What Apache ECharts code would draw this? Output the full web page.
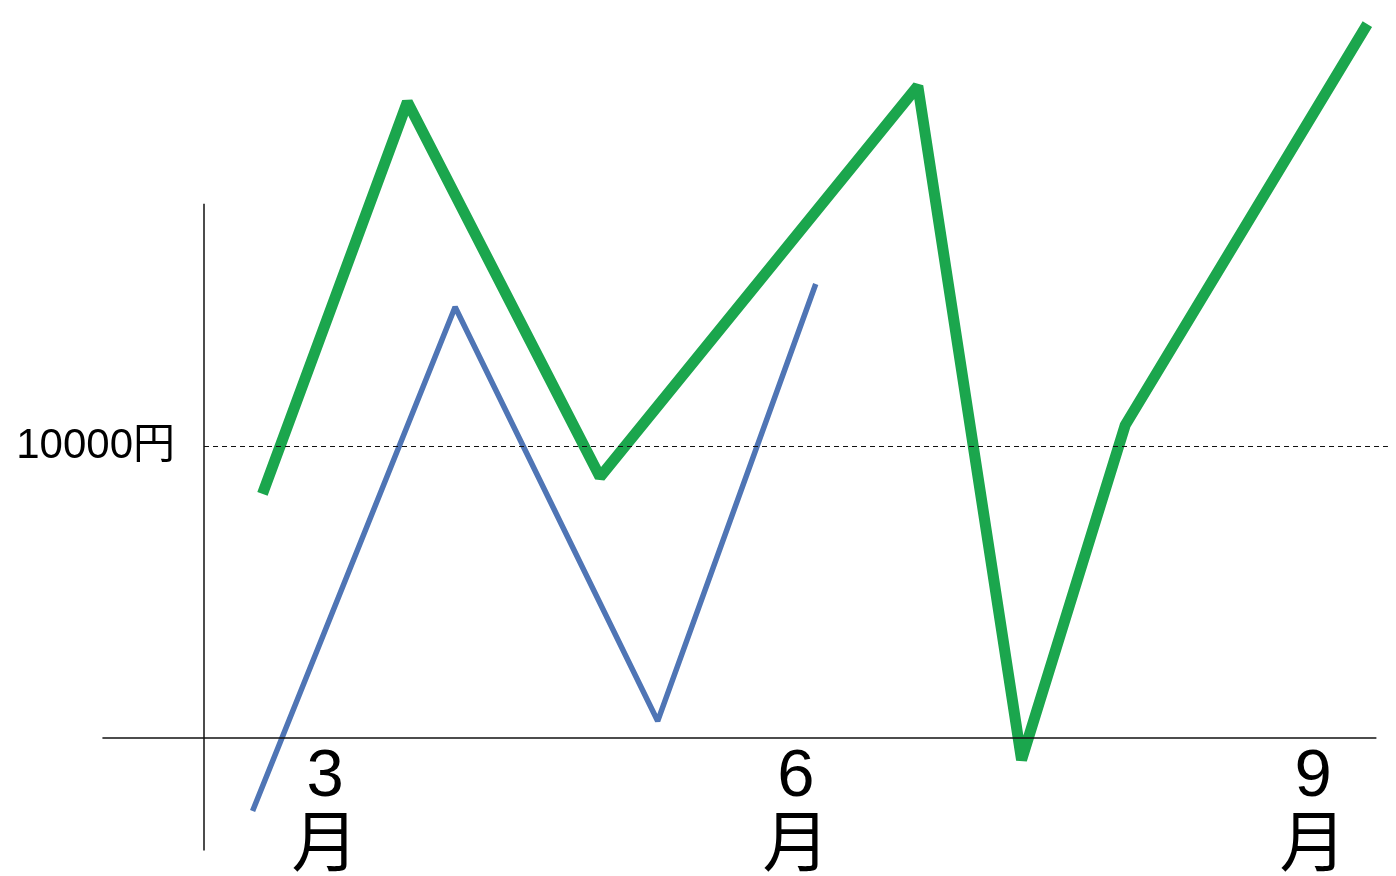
<!DOCTYPE html>
<html>
<head>
<meta charset="utf-8">
<script src="https://cdn.jsdelivr.net/npm/echarts@6/dist/echarts.min.js"></script>
<style>
  html, body { margin: 0; padding: 0; background: #fff; }
  #chart { width: 1396px; height: 876px; }
</style>
</head>
<body>
<div id="chart"></div>
<script>
// months (fractional position along the x axis) and yen values
const greenX = [2.62, 3.50, 4.67, 6.60, 7.23, 7.86, 9.33];
const greenY = [8360, 21780, 8940, 22330, -750, 10720, 24450];
const blueX = [2.56, 3.79, 5.02, 5.98];
const blueY = [-2500, 14760, 580, 15550];

// x tick labels
const tickPos = [3, 5.86, 9];
const tickText = ['3\n月', '6\n月', '9\n月'];

// reference level
const refValue = 10000;
const refLabel = '10000円';

const FONT = "'Liberation Sans', 'Noto Sans CJK JP', sans-serif";

const chart = echarts.init(document.getElementById('chart'));

const pair = (xs, ys) => xs.map((x, i) => [x, ys[i]]);

const option = {
  animation: false,
  grid: { left: 0, right: 0, top: 0, bottom: 0, outerBoundsMode: 'none', containLabel: false },
  xAxis: {
    type: 'value',
    min: 1.026,
    max: 9.504,
    position: 'bottom',
    offset: -138,
    splitLine: { show: false },
    axisLine: { show: false, onZero: false },
    axisTick: { show: false },
    axisLabel: {
      customValues: tickPos,
      formatter: v => tickText[tickPos.indexOf(v)],
      fontFamily: FONT,
      fontSize: 67,
      lineHeight: 70,
      color: '#000',
      margin: 5
    }
  },
  yAxis: {
    type: 'value',
    min: -4726,
    max: 25274,
    splitLine: { show: false },
    axisLine: { show: false },
    axisTick: { show: false },
    axisLabel: { show: false }
  },
  series: [
    {
      type: 'line',
      data: pair(blueX, blueY),
      symbol: 'none',
      lineStyle: { color: '#4f75b5', width: 5.5 },
      z: 3
    },
    {
      type: 'line',
      data: pair(greenX, greenY),
      symbol: 'none',
      lineStyle: { color: '#1ba64d', width: 11 },
      z: 4,
      markLine: {
        silent: true,
        symbol: 'none',
        animation: false,
        data: [
          [
            { coord: [1.648, 0], lineStyle: { color: '#111', width: 1.5, type: 'solid' }, label: { show: false } },
            { coord: [9.385, 0] }
          ],
          [
            { coord: [2.265, -3850], lineStyle: { color: '#111', width: 1.5, type: 'solid' }, label: { show: false } },
            { coord: [2.265, 18300] }
          ],
          [
            {
              coord: [2.265, refValue],
              lineStyle: { color: '#111', width: 1.2, type: [5, 4] },
              label: {
                show: true,
                position: 'start',
                formatter: refLabel,
                distance: 29,
                fontFamily: FONT,
                fontSize: 42,
                color: '#000'
              }
            },
            { coord: [9.455, refValue] }
          ]
        ]
      }
    }
  ]
};

chart.setOption(option);
</script>
</body>
</html>
